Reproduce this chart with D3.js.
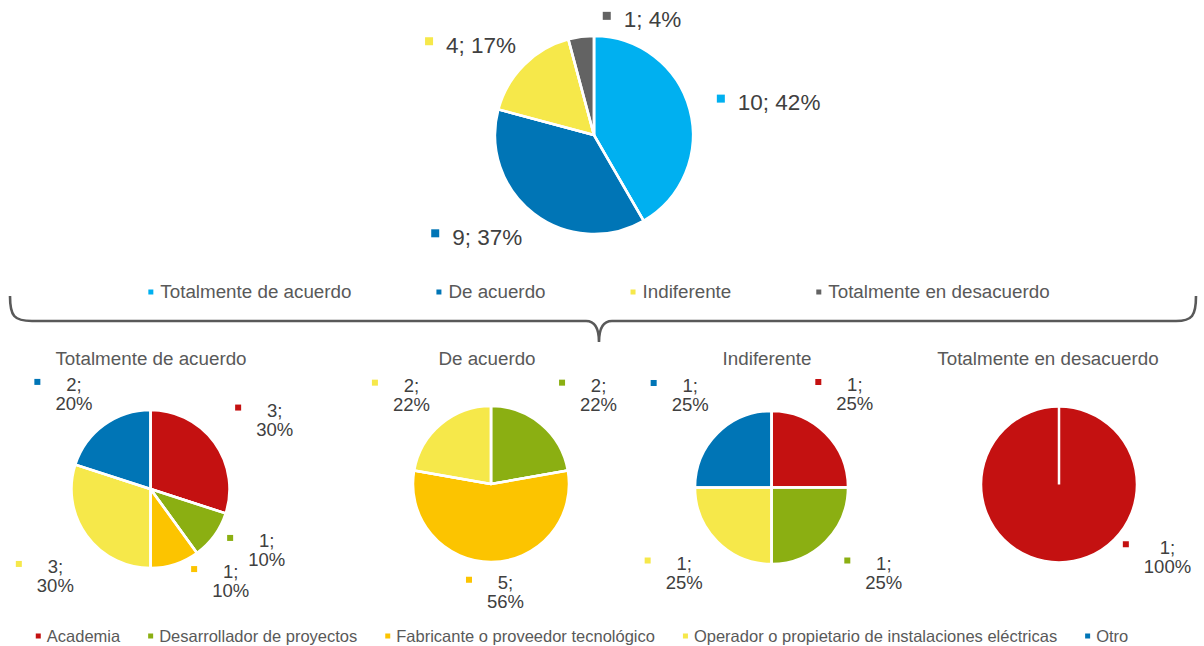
<!DOCTYPE html>
<html>
<head>
<meta charset="utf-8">
<script src="https://cdn.jsdelivr.net/npm/d3@7"></script>
<style>
  body { margin: 0; background: #fff; }
  svg { display: block; font-family: "Liberation Sans", Arial, sans-serif; }
</style>
</head>
<body>
<script>
// ---- data ----
const answerCats = ["Totalmente de acuerdo", "De acuerdo", "Indiferente", "Totalmente en desacuerdo"];
const answerValues = [10, 9, 4, 1];
const answerPct = [42, 37, 17, 4];
const answerColors = ["#00B0F0", "#0075B6", "#F6E84A", "#636363"];

const actorCats = ["Academia", "Desarrollador de proyectos", "Fabricante o proveedor tecnológico",
    "Operador o propietario de instalaciones eléctricas", "Otro"];
const actorColors = ["#C41111", "#8BAF12", "#FCC400", "#F6E84A", "#0075B6"];

const totAcuerdoValues = [3, 1, 1, 3, 2];
const totAcuerdoPct = [30, 10, 10, 30, 20];
const deAcuerdoValues = [0, 2, 5, 2, 0];
const deAcuerdoPct = [0, 22, 56, 22, 0];
const indiferenteValues = [1, 1, 0, 1, 1];
const indiferentePct = [25, 25, 0, 25, 25];
const totDesacuerdoValues = [1, 0, 0, 0, 0];
const totDesacuerdoPct = [100, 0, 0, 0, 0];

// ---- layout ----
const width = 1204, height = 646;

const svg = d3.select("body").append("svg")
    .attr("width", width)
    .attr("height", height);

const mainCfg = { cx: 594, cy: 135, r: 99, font: 22.5, sq: 8, gap: 13, lineH: 22, base: 19, oneLine: true };
const subCfg = [
    { cx: 150.5, cy: 489, r: 79, tx: 151 },
    { cx: 491, cy: 484, r: 78, tx: 487 },
    { cx: 771.5, cy: 487.5, r: 76.5, tx: 767 },
    { cx: 1059, cy: 484.5, r: 78, tx: 1048 }
].map(c => Object.assign(c, { font: 18.5, sq: 6, gap: 15, lineH: 19, base: 15, oneLine: false }));

// hand nudges where excel moved labels off the plain outside position
const mainNudge = [[0, 0], [-11, 0], [0, 0], [70, 11]];
const subNudge = [
    [[2, 0], [-6, -6], [27, -17], [6, 20], [-6, 0]],
    [[0, 0], [9, 0], [4, -6], [-2, 0], [0, 0]],
    [[-23, -12], [6, 6], [0, 0], [-2, 6], [4, -11]],
    [[98, -42], [0, 0], [0, 0], [0, 0], [0, 0]]
];

function drawPie(cfg, values, pcts, colors, nudges) {
    const slices = d3.pie().sort(null).value(d => d)(values).filter(d => d.value > 0);
    const arc = d3.arc().innerRadius(0).outerRadius(cfg.r);

    const g = svg.append("g")
        .attr("transform", `translate(${cfg.cx},${cfg.cy})`);

    g.selectAll("path")
        .data(slices)
        .join("path")
        .attr("d", arc)
        .attr("fill", d => colors[d.index])
        .attr("stroke", "#fff")
        .attr("stroke-width", 2.5)
        .attr("stroke-linejoin", "round");

    // separator at slice starts (shows on a single 100% slice too)
    g.selectAll("line")
        .data(slices)
        .join("line")
        .attr("x1", 0).attr("y1", 0)
        .attr("x2", d => cfg.r * Math.sin(d.startAngle))
        .attr("y2", d => -cfg.r * Math.cos(d.startAngle))
        .attr("stroke", "#fff")
        .attr("stroke-width", 2.5);

    slices.forEach(d => {
        const lines = cfg.oneLine
            ? [`${d.value}; ${pcts[d.index]}%`]
            : [`${d.value};`, `${pcts[d.index]}%`];
        const lg = g.append("g");
        const texts = lg.selectAll("text")
            .data(lines)
            .join("text")
            .attr("text-anchor", "middle")
            .style("font-size", cfg.font + "px")
            .attr("fill", "#404040")
            .text(t => t);
        const tw = d3.max(texts.nodes(), n => n.getComputedTextLength());
        const w = cfg.sq + cfg.gap + tw, h = cfg.lineH * lines.length;
        const a = (d.startAngle + d.endAngle) / 2, s = Math.sin(a), c = Math.cos(a);
        const [nx, ny] = nudges[d.index];
        const bx = (cfg.r + 30) * s + w / 2 * s + nx;
        const by = -(cfg.r + 18) * c - h / 2 * c + ny;
        const left = bx - w / 2, top = by - h / 2;

        texts.attr("x", left + cfg.sq + cfg.gap + tw / 2)
            .attr("y", (t, i) => top + cfg.base + i * cfg.lineH);
        lg.append("rect")
            .attr("x", left)
            .attr("y", top + cfg.base - cfg.font * 0.5 - cfg.sq / 2)
            .attr("width", cfg.sq)
            .attr("height", cfg.sq)
            .attr("fill", colors[d.index]);
    });
}

function drawLegend(items, colors, y, centerX, fs, textOff, gap) {
    const g = svg.append("g");
    let x = 0;
    items.forEach((t, i) => {
        g.append("rect")
            .attr("x", x)
            .attr("y", y - 8.5)
            .attr("width", 5)
            .attr("height", 5)
            .attr("fill", colors[i]);
        const tx = g.append("text")
            .attr("x", x + textOff)
            .attr("y", y)
            .style("font-size", fs + "px")
            .attr("fill", "#595959")
            .text(t);
        x += textOff + tx.node().getComputedTextLength() + gap;
    });
    const total = x - gap;
    g.attr("transform", `translate(${centerX - total / 2},0)`);
}

// top pie
drawPie(mainCfg, answerValues, answerPct, answerColors, mainNudge);
drawLegend(answerCats, answerColors, 298, 599, 18.8, 12, 85);

// brace
svg.append("path")
    .attr("d", "M10,296 C10,316 14,321 32,321 L586,321 C595,321 599,329 599,342 " +
        "C599,329 603,321 612,321 L1176,321 C1192,321 1196,316 1196,296")
    .attr("fill", "none")
    .attr("stroke", "#595959")
    .attr("stroke-width", 2.6);

// breakdown pies
const subValues = [totAcuerdoValues, deAcuerdoValues, indiferenteValues, totDesacuerdoValues];
const subPct = [totAcuerdoPct, deAcuerdoPct, indiferentePct, totDesacuerdoPct];

subCfg.forEach((cfg, i) => {
    svg.append("text")
        .attr("x", cfg.tx)
        .attr("y", 365)
        .attr("text-anchor", "middle")
        .style("font-size", "18.8px")
        .attr("fill", "#595959")
        .text(answerCats[i]);
    drawPie(cfg, subValues[i], subPct[i], actorColors, subNudge[i]);
});

drawLegend(actorCats, actorColors, 642, 582, 16.5, 11, 28);
</script>
</body>
</html>
